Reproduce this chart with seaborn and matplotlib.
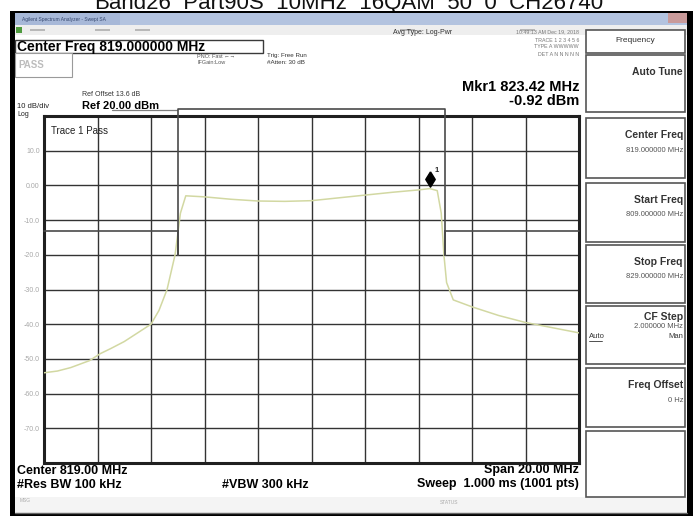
import matplotlib
matplotlib.use("Agg")
from matplotlib import pyplot as plt
from matplotlib import patches, transforms
import pandas as pd
import seaborn as sns

# trace 1 (MHz, dBm)
freq_mhz = [809.0, 809.5, 810.0, 810.7, 811.1, 811.5, 812.0, 812.5, 813.0, 813.3,
            813.6, 813.9, 814.1, 814.3, 815.0, 816.0, 817.0, 818.0, 819.0, 820.0,
            821.0, 822.0, 823.0, 823.42, 823.7, 823.85, 823.95, 824.05, 824.3, 825.0,
            826.0, 827.0, 828.0, 829.0]
level_dbm = [-54.0, -53.5, -52.5, -50.5, -48.5, -47.0, -45.0, -42.5, -40.0, -36.0,
             -30.0, -20.0, -8.0, -3.0, -3.3, -4.0, -4.5, -4.6, -4.4, -3.6,
             -2.8, -2.0, -1.3, -0.92, -1.5, -8.0, -20.0, -28.0, -33.0, -35.0,
             -37.5, -39.5, -41.0, -42.5]

# limit line
limit_freq_mhz = [809, 814, 814, 814, 824, 824, 824, 829]
limit_dbm = [-13, -13, -20, 22, 22, -20, -13, -13]

marker_freq = 823.42
marker_dbm = -0.92

y_ticks = [20, 10, 0, -10, -20, -30, -40, -50, -60, -70, -80]
y_tick_labels = ["", "10.0", "0.00", "-10.0", "-20.0", "-30.0", "-40.0", "-50.0", "-60.0", "-70.0", ""]
x_ticks = [809, 811, 813, 815, 817, 819, 821, 823, 825, 827, 829]

softkey_titles = ["Auto Tune", "Center Freq", "Start Freq", "Stop Freq", "CF Step", "Freq Offset", ""]
softkey_values = ["", "819.000000 MHz", "809.000000 MHz", "829.000000 MHz", "2.000000 MHz", "0 Hz", ""]
softkey_rows = [(55, 112), (118, 178), (183, 242), (245, 303), (306, 364), (368, 427), (431, 497)]

sns.set_style("white")
plt.rcParams["font.family"] = ["Liberation Sans", "DejaVu Sans"]

W, H = 699, 516
fig = plt.figure(figsize=(W / 100, H / 100), dpi=100)
bg = fig.add_axes([0, 0, 1, 1])
bg.set_xlim(0, W)
bg.set_ylim(H, 0)
bg.axis("off")


def box(x0, y0, x1, y1, fc="white", ec="none", lw=1.0, z=1):
    bg.add_patch(patches.Rectangle((x0, y0), x1 - x0, y1 - y0, facecolor=fc,
                                   edgecolor=ec, linewidth=lw, zorder=z))


def txt(x, y, s, size, ha="left", weight="normal", color="black", z=5):
    bg.text(x, y, s, fontsize=size, ha=ha, va="center", fontweight=weight,
            color=color, zorder=z)


# file name above the screenshot (cut off at the top)
bg.text(349, 8.5, "Band26_Part90S_10MHz_16QAM_50_0_CH26740", fontsize=16,
        ha="center", va="baseline", zorder=0, color="#111111")

# instrument window frame
box(10, 10.5, 693, 516, fc="black", z=1)
box(15, 13, 687, 513, fc="#f2f2f2", z=1)
box(15, 13, 687, 25, fc="#b3c3df", z=2)
box(15, 13, 120, 25, fc="#a7b8d8", z=2)
box(668, 13, 687, 23, fc="#c99a9a", z=2)
txt(22, 19, "Agilent Spectrum Analyzer - Swept SA", 3.5, color="#34466e")
box(15, 25, 687, 35, fc="#eeeeee", z=2)
box(16, 27, 22, 33, fc="#4e9a3e", z=3)
for x0 in (30, 95, 135, 400, 520):
    box(x0, 29, x0 + 15, 31, fc="#b8b8b8", z=3)
box(15, 35, 687, 497, fc="white", z=2)

# header texts
box(15, 40, 263, 53, fc="white", ec="#3a3a3a", lw=1.0, z=3)
txt(17, 47, "Center Freq 819.000000 MHz", 10, weight="bold")
box(15, 53, 72, 77, fc="white", ec="#9a9a9a", lw=0.8, z=3)
txt(18, 65, "PASS", 7, weight="bold", color="#bdbdbd")
txt(197, 57, "PNO: Fast \u2190\u2192", 4, color="#555555")
txt(197, 63, "IFGain:Low", 4, color="#555555")
txt(267, 56, "Trig: Free Run", 4.5, color="#333333")
txt(267, 62, "#Atten: 30 dB", 4.5, color="#333333")
txt(393, 32, "Avg Type: Log-Pwr", 5, color="#333333")
txt(579, 32, "10:49:13 AM Dec 19, 2018", 3.8, ha="right", color="#777777")
txt(579, 40, "TRACE 1 2 3 4 5 6", 3.8, ha="right", color="#777777")
txt(579, 47, "TYPE A WWWWW", 3.8, ha="right", color="#777777")
txt(579, 54, "DET A N N N N N", 3.8, ha="right", color="#777777")
txt(579, 87, "Mkr1 823.42 MHz", 10.5, ha="right", weight="bold")
txt(579, 101, "-0.92 dBm", 10.5, ha="right", weight="bold")
txt(82, 94, "Ref Offset 13.6 dB", 5, color="#333333")
txt(17, 106, "10 dB/div", 5.5, color="#222222")
txt(82, 106, "Ref 20.00 dBm", 8, weight="bold")
txt(17, 114, "Log", 5, color="#222222")
bg.plot([112, 177], [110, 110], color="#808080", lw=0.9, zorder=4)

# footer texts
txt(17, 471, "Center 819.00 MHz", 9, weight="bold")
txt(17, 485, "#Res BW 100 kHz", 9, weight="bold")
txt(222, 485, "#VBW 300 kHz", 9, weight="bold")
txt(579, 470, "Span 20.00 MHz", 9, ha="right", weight="bold")
txt(579, 484, "Sweep  1.000 ms (1001 pts)", 9, ha="right", weight="bold")
box(15, 497, 687, 512, fc="#f4f4f4", z=3)
txt(20, 500, "MSG", 3.5, color="#aaaaaa")
txt(440, 503, "STATUS", 3.5, color="#aaaaaa")
bg.plot([15, 687], [513, 513], color="#666666", lw=1.0, zorder=4)

# softkey panel
box(586, 30, 685, 53, fc="white", ec="#555555", lw=1.2, z=3)
txt(635, 40, "Frequency", 6, ha="center", color="#333333")
for (y0, y1), title, value in zip(softkey_rows, softkey_titles, softkey_values):
    box(586, y0, 685, y1, fc="white", ec="#555555", lw=1.2, z=3)
    if title == "CF Step":
        txt(683, y0 + 11, title, 7.5, ha="right", weight="bold", color="#333333")
        txt(683, y0 + 21, value, 5.5, ha="right", color="#555555")
        txt(589, y0 + 31, "Auto", 5.5, color="#333333")
        bg.plot([589, 602], [y0 + 35, y0 + 35], color="#333333", lw=0.6, zorder=5)
        txt(683, y0 + 31, "Man", 5.5, ha="right", color="#333333")
        continue
    if title:
        txt(683, y0 + 17, title, 7.5, ha="right", weight="bold", color="#333333")
    if value:
        txt(683, y0 + 32, value, 5.5, ha="right", color="#555555")

# graticule
ax = fig.add_axes([44 / W, (H - 463) / H, (579 - 44) / W, (463 - 116) / H])
ax.set_zorder(5)
trace = pd.DataFrame({"freq": freq_mhz, "level": level_dbm})
sns.lineplot(data=trace, x="freq", y="level", ax=ax, color="#d2d8a2", lw=1.1,
             sort=False, zorder=3)
ax.plot(limit_freq_mhz, limit_dbm, color="#4a4a4a", lw=1.2, clip_on=False, zorder=4)

off = transforms.ScaledTranslation(0, 0.10, fig.dpi_scale_trans)
diamond = [(0, 1), (0.62, 0), (0, -1), (-0.62, 0), (0, 1)]
ax.plot([marker_freq], [marker_dbm], marker=diamond, markersize=11, color="black",
        transform=ax.transData + off, clip_on=False, zorder=6)
ax.text(marker_freq, marker_dbm, "1", fontsize=5.5, fontweight="bold",
        transform=ax.transData + transforms.ScaledTranslation(0.045, 0.17, fig.dpi_scale_trans),
        zorder=6)

ax.set_xlim(809, 829)
ax.set_ylim(-80, 20)
ax.set_xticks(x_ticks)
ax.set_xticklabels([])
ax.set_yticks(y_ticks)
ax.set_yticklabels(y_tick_labels)
ax.tick_params(axis="y", length=0, pad=3, labelsize=5, labelcolor="#a8a8a8")
ax.tick_params(axis="x", length=0)
ax.grid(True, color="#333333", lw=1.0)
ax.set_xlabel("")
ax.set_ylabel("")
for sp in ax.spines.values():
    sp.set_color("#202020")
    sp.set_linewidth(2.2)
ax.text(809.25, 15.8, "Trace 1 Pass", fontsize=7, color="#222222", va="center", zorder=6)

fig.savefig("out.png", dpi=100)
